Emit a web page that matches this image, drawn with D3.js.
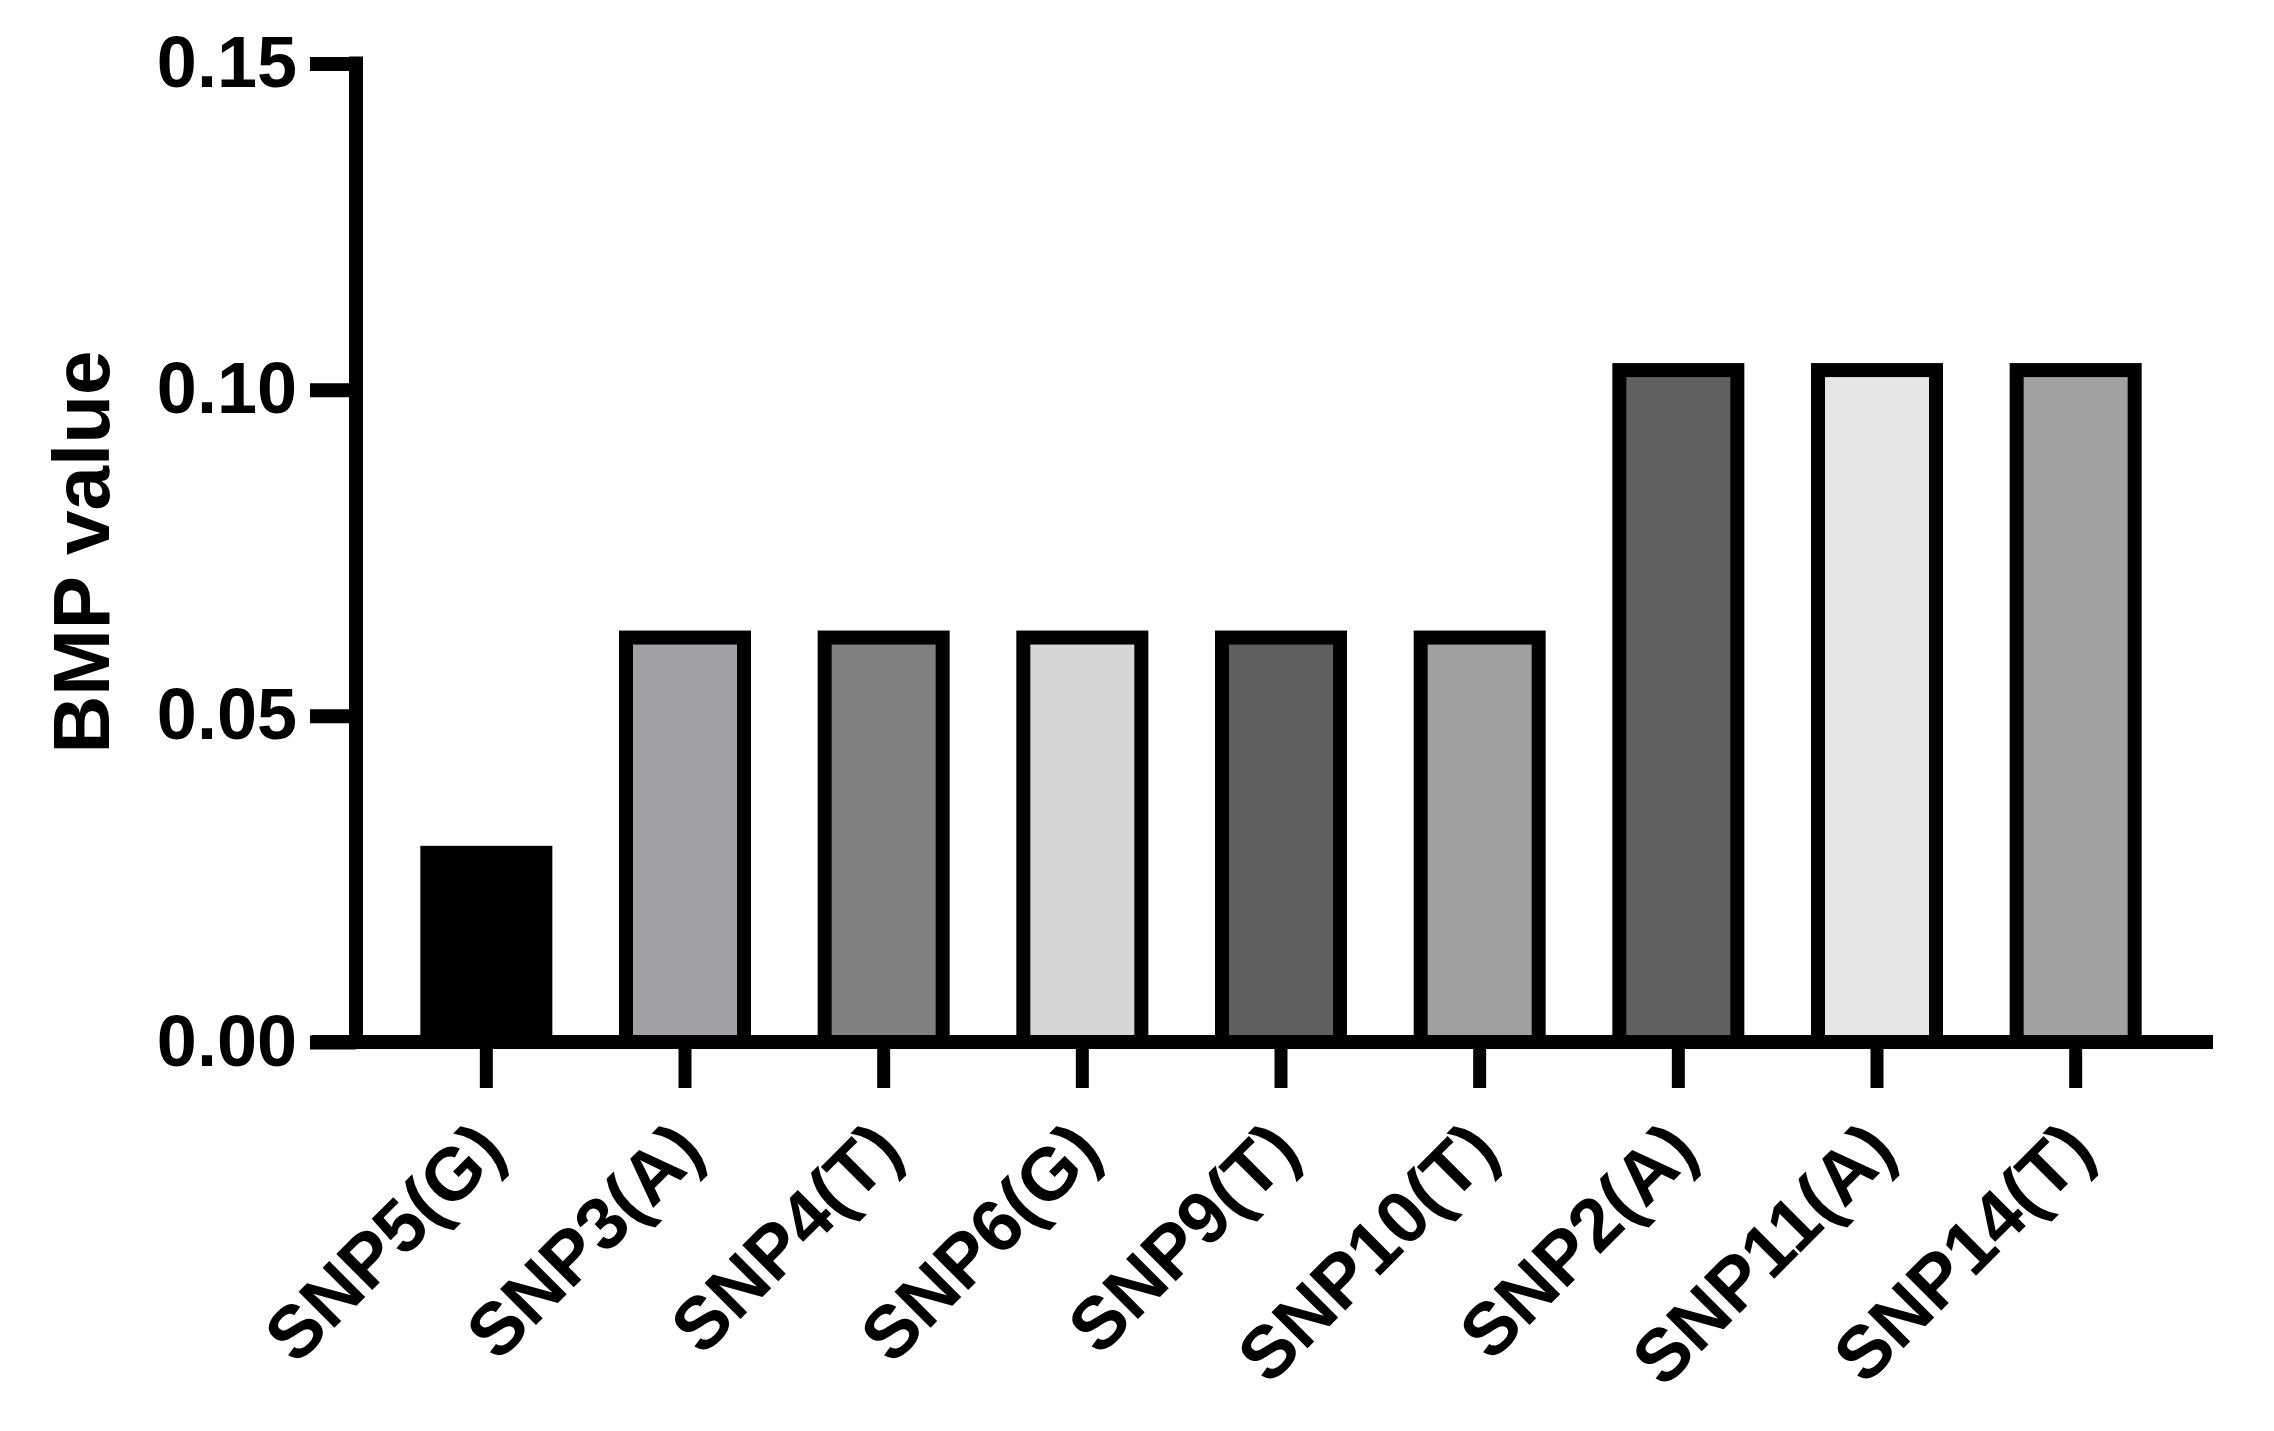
<!DOCTYPE html>
<html>
<head>
<meta charset="utf-8">
<script src="https://cdn.jsdelivr.net/npm/d3@7"></script>
<style>
  body { margin: 0; background: #fff; }
  svg { display: block; font-family: "Liberation Sans", Arial, sans-serif; }
</style>
</head>
<body>
<div id="chart"></div>
<script>
// data
var categories = ['SNP5(G)', 'SNP3(A)', 'SNP4(T)', 'SNP6(G)', 'SNP9(T)', 'SNP10(T)', 'SNP2(A)', 'SNP11(A)', 'SNP14(T)'];
var bmpValues = [0.029, 0.062, 0.062, 0.062, 0.062, 0.062, 0.103, 0.103, 0.103];
var barFills = ['#000000', '#a1a1a3', '#808080', '#d6d6d6', '#5f5f5f', '#a0a0a0', '#616161', '#e6e6e6', '#a1a1a1'];
var yTicks = [0, 0.05, 0.10, 0.15];
var yTitle = 'BMP value';

// sizes
const WIDTH = 2274;
const HEIGHT = 1431;
const AXIS_X = 356;      // y axis line
const AXIS_Y = 1042;     // x axis line
const LINE_W = 14;
const TICK_LEN = 46;

var svg = d3.select('#chart').append('svg')
            .attr('width', WIDTH)
            .attr('height', HEIGHT);

var y = d3.scaleLinear().domain([0, 0.15]).range([AXIS_Y, 63.5]);

var x = d3.scaleBand().domain(categories)
          .range([387, 2175])
          .paddingInner(0.406)
          .paddingOuter(0.203);

// bars
svg.append('g').selectAll('rect.bar')
   .data(categories)
   .enter()
   .append('rect')
   .classed('bar', true)
   .attr('x', d => x(d))
   .attr('width', x.bandwidth())
   .attr('y', (d, i) => y(bmpValues[i]))
   .attr('height', (d, i) => y(0) - y(bmpValues[i]))
   .attr('fill', (d, i) => barFills[i])
   .attr('stroke', '#000')
   .attr('stroke-width', LINE_W);

// y axis
var yAxis = svg.append('g')
               .attr('transform', 'translate(' + AXIS_X + ',0)')
               .call(d3.axisLeft(y).tickValues(yTicks).tickFormat(d3.format('.2f'))
                       .tickSize(TICK_LEN).tickPadding(13));
yAxis.select('.domain').remove();
yAxis.selectAll('.tick line').attr('stroke', '#000').attr('stroke-width', LINE_W);
yAxis.selectAll('.tick text')
     .attr('font-size', 72)
     .attr('font-weight', 'bold')
     .attr('fill', '#000')
     .attr('font-family', '"Liberation Sans", Arial, sans-serif');

svg.append('line')
   .attr('x1', AXIS_X).attr('x2', AXIS_X)
   .attr('y1', y(0.15) - LINE_W / 2).attr('y2', AXIS_Y)
   .attr('stroke', '#000')
   .attr('stroke-width', LINE_W);

// x axis
var xAxis = svg.append('g')
               .attr('transform', 'translate(0,' + AXIS_Y + ')')
               .call(d3.axisBottom(x).tickSize(TICK_LEN));
xAxis.select('.domain').remove();
xAxis.selectAll('.tick line').attr('stroke', '#000').attr('stroke-width', 13);
xAxis.selectAll('.tick text')
     .attr('x', 0).attr('y', 0).attr('dy', null)
     .attr('text-anchor', 'end')
     .attr('transform', 'translate(22,112) rotate(-45)')
     .attr('font-size', 74)
     .attr('font-weight', 'bold')
     .attr('fill', '#000')
     .attr('font-family', '"Liberation Sans", Arial, sans-serif');

svg.append('line')
   .attr('x1', 312).attr('x2', 2213)
   .attr('y1', AXIS_Y).attr('y2', AXIS_Y)
   .attr('stroke', '#000')
   .attr('stroke-width', LINE_W);

// y title
svg.append('text')
   .attr('transform', 'translate(109,552) rotate(-90)')
   .attr('text-anchor', 'middle')
   .attr('font-size', 80)
   .attr('font-weight', 'bold')
   .attr('fill', '#000')
   .text(yTitle);
</script>
</body>
</html>
